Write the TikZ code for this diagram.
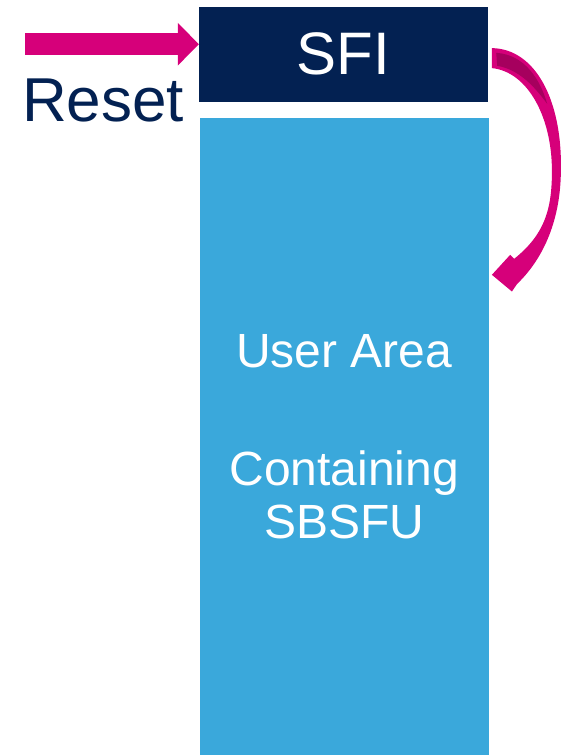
\documentclass[tikz,border=0pt]{standalone}
\usepackage{fontspec}
\setmainfont{Liberation Sans}
\usepackage{tikz}
\usetikzlibrary{arrows.meta,positioning}
\definecolor{STNavy}{RGB}{3,33,82}
\definecolor{STSky}{RGB}{58,168,219}
\definecolor{STPink}{RGB}{214,0,122}
\definecolor{STPinkDark}{RGB}{166,0,94}
\tikzset{
  sfibox/.style={fill=STNavy,text=white,inner sep=0pt,minimum width=288.5pt,
    minimum height=95.2pt,font=\fontsize{60}{72}\selectfont},
  userbox/.style={fill=STSky,text=white,inner sep=0pt,minimum width=288.5pt,
    minimum height=637.3pt,align=center,font=\fontsize{48}{53.3}\selectfont},
  resetlabel/.style={text=STNavy,inner sep=0pt,font=\fontsize{62}{74}\selectfont},
  resetarrow/.style={STPink,line width=21.7pt,
    -{Triangle[length=21pt,width=42.7pt,line width=0pt]}}
}

\begin{document}
\begin{tikzpicture}[x=1pt,y=-1pt]
  \useasboundingbox (0,0) rectangle (567,755);
  \node[sfibox] (sfi) at (343.25,54.1) {SFI};
  \node[userbox,below=16pt of sfi,xshift=1pt] (user)
    {User Area\\[64pt]Containing\\SBSFU};
  \node[resetlabel,anchor=base west] (reset) at (22,121.7) {Reset};
  % reset vector into SFI
  \coordinate (resetstart) at (25,44.2);
  \draw[resetarrow] (resetstart) -- (resetstart -| sfi.west);
  % jump from SFI down into the user area
  \begin{scope}[shift={(sfi.north east)}]
    \fill[STPink] (4.2,41.8) .. controls (47.5,42.5) and (74.5,93.5) .. (73.2,163.5)
      .. controls (73,218.5) and (52.5,255.5) .. (29.5,277.5)
      -- (24.2,285.2) -- (4.2,268.5) -- (22.5,248.5) -- (26.5,252.5)
      .. controls (56.5,228.5) and (64.5,203.5) .. (64.2,163.5)
      .. controls (64,111.5) and (40.5,65.5) .. (4.2,61.8) -- cycle;
    \fill[STPinkDark] (8.5,46.5) .. controls (37.5,48.5) and (52.5,73.5) .. (59.5,97.5)
      .. controls (47.5,81.5) and (32.5,63.5) .. (9.5,59.5) -- cycle;
  \end{scope}
\end{tikzpicture}
\end{document}
